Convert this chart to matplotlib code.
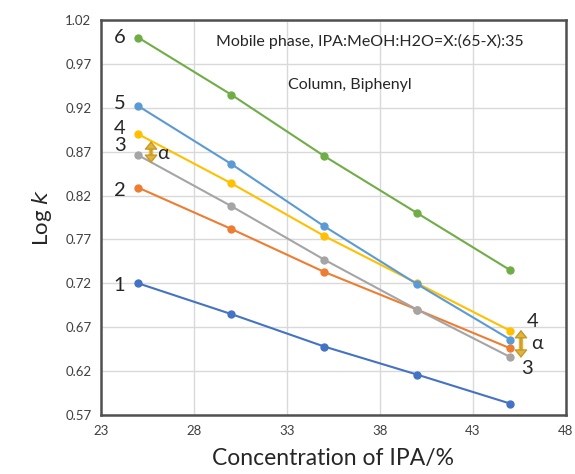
import matplotlib.pyplot as plt
import numpy as np

plt.rcParams['font.family'] = ['Lato', 'DejaVu Sans']

ipa = [25, 30, 35, 40, 45]
s1 = [0.720, 0.685, 0.648, 0.616, 0.583]
s2 = [0.829, 0.782, 0.733, 0.690, 0.646]
s3 = [0.866, 0.808, 0.747, 0.690, 0.636]
s4 = [0.890, 0.834, 0.774, 0.720, 0.666]
s5 = [0.922, 0.856, 0.785, 0.719, 0.656]
s6 = [1.000, 0.935, 0.865, 0.800, 0.735]
series = [s1, s2, s3, s4, s5, s6]
names = ['1', '2', '3', '4', '5', '6']
colors = ['#4472C4', '#ED7D31', '#A5A5A5', '#FFC000', '#5B9BD5', '#70AD47']

xticks = np.arange(23, 49, 5)
yticks = np.arange(0.57, 1.021, 0.05)

fig = plt.figure(figsize=(5.75, 4.74), dpi=100)
ax = fig.add_axes([0.1757, 0.1245, 0.8086, 0.8333])

for ys, c in zip(series, colors):
    ax.plot(ipa, ys, color=c, lw=1.5, marker='o', ms=5, zorder=3)

ax.set_xlim(23, 48)
ax.set_ylim(0.57, 1.02)
ax.set_xticks(xticks)
ax.set_yticks(yticks)
ax.set_yticklabels(['%.2f' % v for v in yticks])
ax.tick_params(length=0, labelsize=9.5, colors='#404040', pad=7)
ax.grid(True, color='#D9D9D9', lw=1)
ax.set_axisbelow(True)
for sp in ax.spines.values():
    sp.set_color('#505050')
    sp.set_linewidth(1.8)

ax.set_xlabel('Concentration of IPA/%', fontsize=16.5, color='#262626', labelpad=8)
ax.set_ylabel('Log $\\it{k}$', fontsize=16, color='#262626', labelpad=8)

# series numbers at left
for name, ys in zip(names, series):
    off = {'6': 0.0, '5': 0.003, '4': 0.006, '3': 0.011, '2': -0.003, '1': -0.002}[name]
    ax.text(24.0, ys[0] + off, name, fontsize=14.5, ha='center', va='center', color='#262626')

ax.text(46.2, s4[-1] + 0.01, '4', fontsize=14.5, ha='center', va='center', color='#262626')
ax.text(45.9, s3[-1] - 0.013, '3', fontsize=14.5, ha='center', va='center', color='#262626')

# alpha arrows (thick shaft + heads)
arrows = [(25.69, 0.882, 0.857), (45.58, 0.667, 0.635)]
arrow_kw = dict(arrowstyle='<|-|>,head_length=0.55,head_width=0.45', fc='#E3B43C',
                ec='#C49A28', lw=1.0, mutation_scale=9, shrinkA=0, shrinkB=0)
for ax_x, y_top, y_bot in arrows:
    ax.vlines(ax_x, y_bot + 0.004, y_top - 0.004, color='#E3B43C', lw=3.2, zorder=4)
    ax.annotate('', xy=(ax_x, y_top), xytext=(ax_x, y_bot), arrowprops=arrow_kw, zorder=4)
ax.text(26.0, 0.868, 'α', fontsize=14, ha='left', va='center', color='#262626')
ax.text(46.1, 0.651, 'α', fontsize=14, ha='left', va='center', color='#262626')

ax.text(37.45, 0.995, 'Mobile phase, IPA:MeOH:H2O=X:(65-X):35', fontsize=11.5,
        ha='center', va='center', color='#262626')
ax.text(36.4, 0.946, 'Column, Biphenyl', fontsize=11.5, ha='center', va='center', color='#262626')

fig.savefig('out.png')
